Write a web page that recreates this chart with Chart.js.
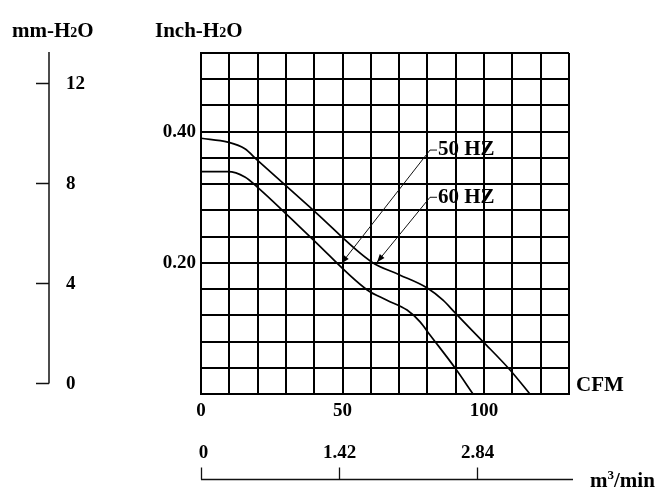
<!DOCTYPE html>
<html><head><meta charset="utf-8">
<script src="https://cdn.jsdelivr.net/npm/chart.js@4/dist/chart.umd.min.js"></script>
<style>html,body{margin:0;padding:0;background:#fff}#wrap{width:659px;height:497px;position:relative}</style>
</head><body><div id="wrap"><canvas id="c" width="659" height="497"></canvas></div>
<script>
// ---- data ----
const cfm60 = [0, 9.5, 15.5, 19.8, 40.0, 60.4, 70.0, 79.8, 85.5, 89.7, 99.6, 109.1, 116.2];
const inch60 = [0.390, 0.384, 0.374, 0.357, 0.279, 0.201, 0.182, 0.162, 0.143, 0.124, 0.080, 0.037, 0.0];
const cfm50 = [0, 9.5, 15.5, 19.8, 39.2, 58.6, 65.7, 72.8, 77.4, 80.9, 89.7, 96.1];
const inch50 = [0.339, 0.339, 0.331, 0.316, 0.237, 0.159, 0.143, 0.128, 0.110, 0.090, 0.040, 0.0];
const cfmTickLabels = [0, 50, 100];
const inchTickLabels = [0.20, 0.40];
const mmTicks = [0, 4, 8, 12];
const m3Ticks = [0, 1.42, 2.84];
const seriesNames = ['60 HZ', '50 HZ'];
// annotation: label anchor (CFM, inch) and arrow tip (CFM, inch)
const labelAnchors = [[80.9, 0.372], [80.9, 0.300]];
const arrowTips = [[49.6, 0.199], [62.2, 0.201]];
const labelTexts = ['50 HZ', '60 HZ'];

const FAM = '"Liberation Serif", "Times New Roman", serif';

function drawParts(ctx, parts, x, yBase) {
  parts.forEach(([t, size, dy]) => {
    ctx.font = 'bold ' + size + 'px ' + FAM;
    ctx.fillText(t, x, yBase + dy);
    x += ctx.measureText(t).width;
  });
}

const extras = {
  id: 'extras',
  afterDraw(chart) {
    const ctx = chart.ctx;
    const xs = chart.scales.x, ys = chart.scales.y, y2 = chart.scales.y2, x2 = chart.scales.x2;
    const area = chart.chartArea;
    ctx.save();
    ctx.strokeStyle = '#111';
    ctx.fillStyle = '#000';
    // mm-H2O axis
    const axX = 49;
    ctx.lineWidth = 1.5;
    ctx.beginPath();
    ctx.moveTo(axX, y2.top - 1);
    ctx.lineTo(axX, Math.round(y2.getPixelForValue(0)) + 0.5);
    ctx.stroke();
    ctx.font = 'bold 19px ' + FAM;
    ctx.textAlign = 'left';
    ctx.textBaseline = 'middle';
    mmTicks.forEach(v => {
      const py = Math.round(y2.getPixelForValue(v)) + 0.5;
      ctx.beginPath(); ctx.moveTo(axX - 13, py); ctx.lineTo(axX, py); ctx.stroke();
      ctx.fillText(String(v), axX + 17, py + 1);
    });
    // m3/min axis
    const axY = area.bottom + 85.5;
    ctx.lineWidth = 1.3;
    ctx.beginPath();
    ctx.moveTo(x2.getPixelForValue(0), axY);
    ctx.lineTo(x2.right + 4, axY);
    ctx.stroke();
    ctx.textAlign = 'center';
    ctx.font = 'bold 19px ' + FAM;
    m3Ticks.forEach(v => {
      const px = Math.round(x2.getPixelForValue(v)) + 0.5;
      ctx.beginPath(); ctx.moveTo(px, axY - 12); ctx.lineTo(px, axY); ctx.stroke();
      ctx.fillText(String(v), px + (v === 0 ? 2 : 0), axY - 26);
    });
    // titles
    ctx.textAlign = 'left';
    ctx.textBaseline = 'alphabetic';
    drawParts(ctx, [['mm-H', 21, 0], ['2', 14, 0], ['O', 21, 0]], 12, 37);
    drawParts(ctx, [['Inch-H', 21, 0], ['2', 14, 0], ['O', 21, 0]], 155, 37);
    drawParts(ctx, [['CFM', 21, 0]], area.right + 7, area.bottom - 3);
    drawParts(ctx, [['m', 21, 0], ['3', 13, -8], ['/min', 21, 0]], 590, 487);
    // annotations
    ctx.lineWidth = 1;
    labelTexts.forEach((t, i) => {
      const ax = xs.getPixelForValue(labelAnchors[i][0]), ay = ys.getPixelForValue(labelAnchors[i][1]);
      const tx = xs.getPixelForValue(arrowTips[i][0]), ty = ys.getPixelForValue(arrowTips[i][1]);
      ctx.beginPath(); ctx.moveTo(ax + 7, ay); ctx.lineTo(ax, ay); ctx.lineTo(tx, ty); ctx.stroke();
      const ang = Math.atan2(ty - ay, tx - ax);
      const L = 8, W = 3;
      ctx.beginPath();
      ctx.moveTo(tx, ty);
      ctx.lineTo(tx - L * Math.cos(ang) + W * Math.sin(ang), ty - L * Math.sin(ang) - W * Math.cos(ang));
      ctx.lineTo(tx - L * Math.cos(ang) - W * Math.sin(ang), ty - L * Math.sin(ang) + W * Math.cos(ang));
      ctx.closePath(); ctx.fill();
      ctx.textBaseline = 'middle';
      ctx.font = 'bold 21px ' + FAM;
      ctx.fillText(t, ax + 8, ay);
    });
    ctx.restore();
  }
};

const tickFont = {family: FAM, size: 19, weight: 'bold'};
new Chart(document.getElementById('c'), {
  type: 'line',
  data: {
    datasets: [
      {label: seriesNames[0], data: cfm60.map((x, i) => ({x, y: inch60[i]})), borderColor: '#000', borderWidth: 1.7, pointRadius: 0, cubicInterpolationMode: 'monotone', fill: false},
      {label: seriesNames[1], data: cfm50.map((x, i) => ({x, y: inch50[i]})), borderColor: '#000', borderWidth: 1.7, pointRadius: 0, cubicInterpolationMode: 'monotone', fill: false}
    ]
  },
  options: {
    responsive: false, animation: false, devicePixelRatio: 1,
    layout: {padding: {top: 53, right: 90, bottom: 0, left: 0}},
    plugins: {legend: {display: false}, tooltip: {enabled: false}},
    scales: {
      x: {
        type: 'linear', min: 0, max: 130,
        afterFit(s) { s.height = 103; },
        ticks: {stepSize: 10, autoSkip: false, maxRotation: 0, padding: 6, color: '#000', font: tickFont,
          callback: v => cfmTickLabels.some(t => Math.abs(t - v) < 1e-6) ? String(v) : ''},
        grid: {color: '#000', lineWidth: 2, drawTicks: false},
        border: {color: '#000', width: 2}
      },
      y: {
        type: 'linear', min: 0, max: 0.52,
        afterFit(s) { s.width = 201; },
        ticks: {stepSize: 0.04, autoSkip: false, padding: 5, color: '#000', font: tickFont,
          callback: v => inchTickLabels.some(t => Math.abs(t - v) < 1e-6) ? v.toFixed(2) : ''},
        grid: {color: '#000', lineWidth: 2, drawTicks: false},
        border: {color: '#000', width: 2}
      },
      y2: {type: 'linear', display: false, position: 'left', min: -0.44, max: 13.2},
      x2: {type: 'linear', display: false, position: 'bottom', min: 0, max: 3.782}
    }
  },
  plugins: [extras]
});
</script>
</body></html>
